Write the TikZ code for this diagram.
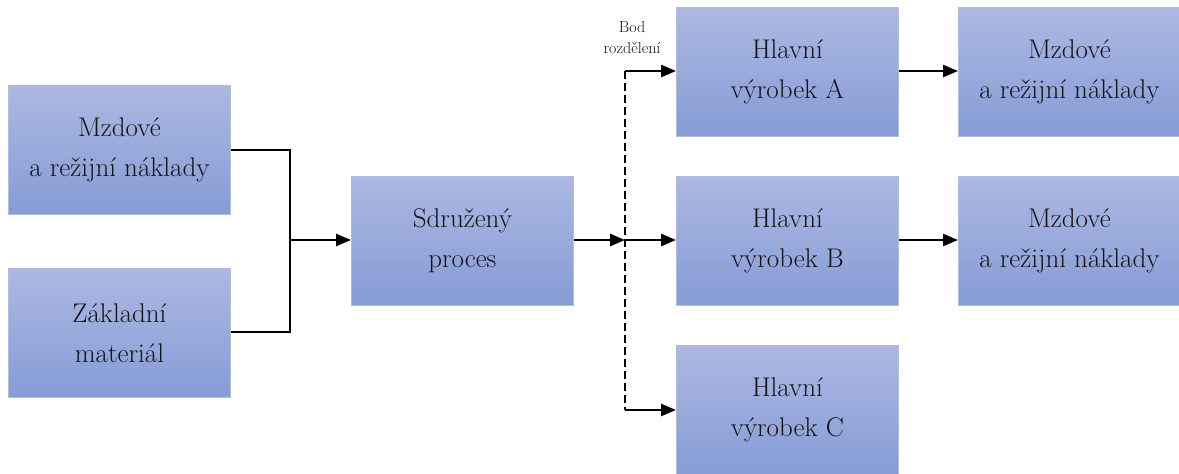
\documentclass[tikz,border=0pt]{standalone}
\usetikzlibrary{arrows.meta,positioning,calc}
\definecolor{boxtop}{RGB}{172,184,226}
\definecolor{boxbot}{RGB}{134,156,214}
\definecolor{boxline}{RGB}{178,188,222}
\definecolor{ink}{RGB}{20,20,20}
\tikzset{
  procbox/.style={draw=boxline, line width=0.8pt, top color=boxtop, bottom color=boxbot,
    minimum width=222pt, minimum height=129pt, anchor=north west, inner sep=0pt,
    align=center, font=\rmfamily\fontsize{27}{40}\selectfont, text=ink},
  flow/.style={line width=2.6pt, -{Triangle[length=15pt,width=12pt]}},
  joint/.style={line width=2.6pt},
  splitline/.style={line width=1.6pt, dash pattern=on 8pt off 4pt},
}
\begin{document}
\begin{tikzpicture}[x=1pt,y=-1pt]
\useasboundingbox (0,0) rectangle (1179,474);
% input boxes
\node[procbox] (mzd1) at (8,85) {Mzdové\\a režijní náklady};
\node[procbox] (mat) at (8,268) {Základní\\materiál};
% joint process
\node[procbox] (proc) at (351,176) {Sdružený\\proces};
% main products
\node[procbox] (pa) at (676,7) {Hlavní\\výrobek A};
\node[procbox] (pb) at (676,176) {Hlavní\\výrobek B};
\node[procbox] (pc) at (676,345) {Hlavní\\výrobek C};
% further costs
\node[procbox] (mzd2) at (958,7) {Mzdové\\a režijní náklady};
\node[procbox] (mzd3) at (958,176) {Mzdové\\a režijní náklady};
% split point
\coordinate (sp) at (625,240);
\coordinate (spTop) at (625,71);
\coordinate (spBot) at (625,410);
\node[font=\rmfamily\fontsize{16}{21}\selectfont, text=ink, align=center, anchor=south] (bod) at (632,57) {Bod\\rozdělení};
% merging inputs
\coordinate (mj) at (290,240);
\draw[joint] (mzd1.east |- 0,150) -| (290,332) -- (mat.east |- 0,332);
\draw[flow] (mj) -- (proc.west |- mj);
\draw[flow] (proc.east |- sp) -- (sp);
\draw[splitline] (spTop) -- (spBot);
\draw[flow] (spTop) -- (pa.west |- spTop);
\draw[flow] (sp) -- (pb.west |- sp);
\draw[flow] (spBot) -- (pc.west |- spBot);
\draw[flow] (pa.east |- spTop) -- (mzd2.west |- spTop);
\draw[flow] (pb.east |- sp) -- (mzd3.west |- sp);
\end{tikzpicture}
\end{document}
